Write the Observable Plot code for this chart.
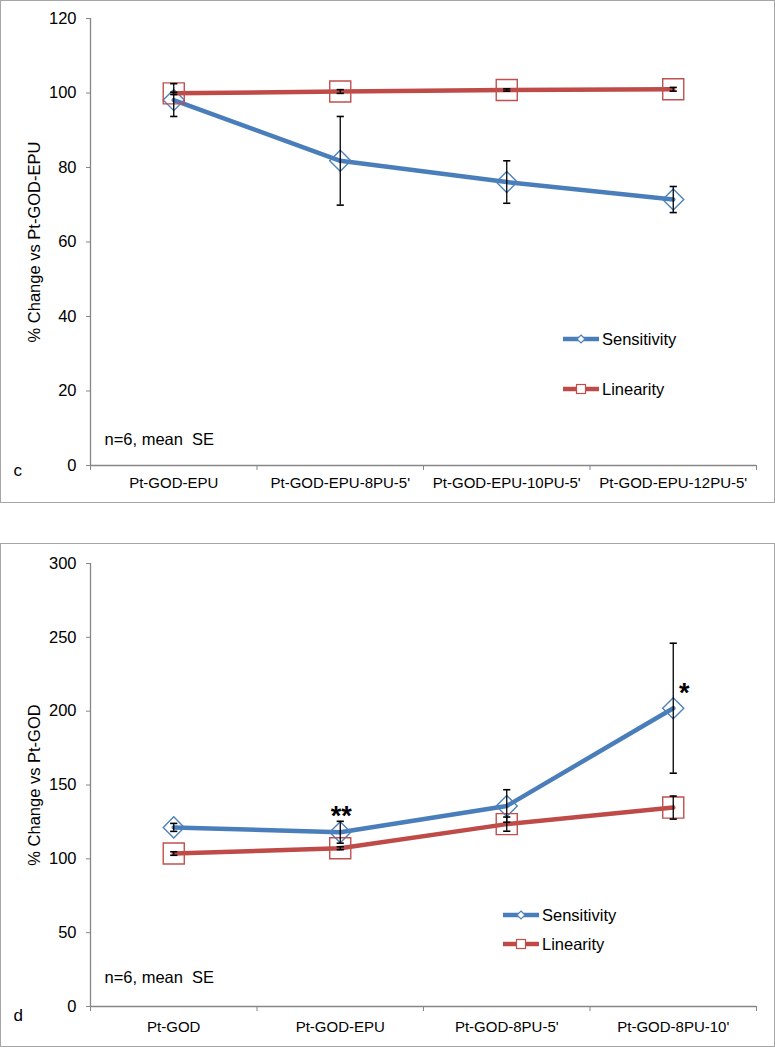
<!DOCTYPE html>
<html><head><meta charset="utf-8">
<script src="https://cdn.jsdelivr.net/npm/d3@7"></script>
<script src="https://cdn.jsdelivr.net/npm/@observablehq/plot@0.6"></script>
<style>
html,body{margin:0;padding:0;background:#fff;}
body{width:775px;height:1048px;position:relative;overflow:hidden;font-family:"Liberation Sans",Arial,sans-serif;}
.border{position:absolute;box-sizing:border-box;border:1.5px solid #a6a6a6;}
.chart{position:absolute;left:0;}
.chart svg text{white-space:pre;}
.item{position:absolute;height:20px;display:flex;align-items:center;white-space:nowrap;font-size:16.5px;color:#000;}
.item svg{display:block;}
</style></head><body>
<div class="border" style="left:0;top:0;width:775px;height:503px"></div>
<div class="border" style="left:0;top:543px;width:775px;height:504px"></div>
<div id="c1" class="chart" style="top:0"></div>
<div id="c2" class="chart" style="top:543px"></div>
<script>
// ---- Panel c data ----
const topCategories = ["Pt-GOD-EPU", "Pt-GOD-EPU-8PU-5'", "Pt-GOD-EPU-10PU-5'", "Pt-GOD-EPU-12PU-5'"];
const topSensitivity = [98.1, 81.8, 76.1, 71.4];
const topSensitivitySE = [4.4, 11.9, 5.7, 3.5];
const topLinearity = [99.9, 100.4, 100.8, 101.0];
const topLinearitySE = [0.3, 0.5, 0.3, 0.5];
const topYTicks = [0, 20, 40, 60, 80, 100, 120];

// ---- Panel d data ----
const bottomCategories = ["Pt-GOD", "Pt-GOD-EPU", "Pt-GOD-8PU-5'", "Pt-GOD-8PU-10'"];
const bottomSensitivity = [121.3, 118.0, 135.8, 202.0];
const bottomSensitivitySE = [2.7, 7.4, 11.0, 44.0];
const bottomLinearity = [103.6, 107.2, 123.5, 134.7];
const bottomLinearitySE = [1.2, 1.0, 4.8, 7.8];
const bottomSignificance = ["", "**", "", "*"];
const bottomYTicks = [0, 50, 100, 150, 200, 250, 300];

const seriesNames = ["Sensitivity", "Linearity"];
const noteText = "n=6, mean  SE";

const FONT = "'Liberation Sans', Arial, sans-serif";
const GRAY = "#868686";
const BLUE = "#4A7EBB", BLUE_M = "#4F81BD";
const RED = "#BE4B48", RED_M = "#C0504D";

const capSymbol = {draw(ctx) { ctx.moveTo(-3.6, 0); ctx.lineTo(3.6, 0); }};

function rows(cats, vals, se, sig) {
  return cats.map((c, i) => ({i: i + 0.5, cat: c, v: vals[i], lo: vals[i] - se[i], hi: vals[i] + se[i], sig: sig ? sig[i] : ""}));
}

function panel(o) {
  const S = rows(o.cats, o.sens, o.sensSE, o.sig);
  const L = rows(o.cats, o.lin, o.linSE);
  const n = o.cats.length;
  return Plot.plot({
    width: 775, height: o.height,
    marginLeft: 90, marginRight: 19, marginTop: o.marginTop, marginBottom: o.marginBottom,
    style: {fontFamily: FONT, fontSize: "16px", color: "#000", background: "transparent", overflow: "visible"},
    x: {type: "linear", domain: [0, n]},
    y: {domain: [0, o.yTicks[o.yTicks.length - 1]]},
    marks: [
      Plot.ruleX([0], {stroke: GRAY, strokeWidth: 1.3}),
      Plot.ruleY([0], {stroke: GRAY, strokeWidth: 1.3}),
      Plot.axisY({ticks: o.yTicks, tickSize: 4, stroke: GRAY, fill: "none", label: null}),
      Plot.text(o.yTicks, {x: 0, y: d => d, text: d => String(d), textAnchor: "end", dx: -14, fontSize: 16.5, fill: "#000"}),
      Plot.axisX({ticks: d3.range(0, n + 1), tickSize: 5, tickFormat: () => "", stroke: GRAY, fill: "none", label: null}),
      Plot.axisX({ticks: o.cats.map((c, i) => i + 0.5), tickSize: 0, tickPadding: o.labelPad, tickFormat: d => o.cats[Math.floor(d)], fontSize: 15, fill: "#000", label: null}),
      Plot.text([o.yLabel], {frameAnchor: "left", rotate: -90, textAnchor: "middle", dx: -56, fontSize: 16.5, fill: "#000"}),
      Plot.text([noteText], {frameAnchor: "bottom-left", dx: 14, dy: o.noteDy, textAnchor: "start", fontSize: 16.5, fill: "#000"}),
      Plot.text([o.letter], {frameAnchor: "bottom-left", dx: -77, dy: o.letterDy, textAnchor: "start", fontSize: 17, fill: "#000"}),
      // Sensitivity line + markers
      Plot.line(S, {x: "i", y: "v", stroke: BLUE, strokeWidth: 4.5}),
      Plot.dot(S, {x: "i", y: "v", symbol: "diamond2", r: 9.5, stroke: BLUE_M, strokeWidth: 1.4, fill: "none"}),
      // Linearity line + markers
      Plot.line(L, {x: "i", y: "v", stroke: RED, strokeWidth: 4.5}),
      Plot.dot(L, {x: "i", y: "v", symbol: "square2", r: 13.4, stroke: RED_M, strokeWidth: 1.4, fill: "none"}),
      // Error bars
      ...[S, L].flatMap(D => [
        Plot.ruleX(D, {x: "i", y1: "lo", y2: "hi", stroke: "#000", strokeWidth: 1.3}),
        Plot.dot(D, {x: "i", y: "hi", symbol: capSymbol, r: 1, stroke: "#000", strokeWidth: 1.6, fill: "none"}),
        Plot.dot(D, {x: "i", y: "lo", symbol: capSymbol, r: 1, stroke: "#000", strokeWidth: 1.6, fill: "none"})
      ]),
      // Significance marks
      Plot.text(S.filter(d => d.sig === "**"), {x: "i", y: "v", text: "sig", dy: -16, dx: 1, fontSize: 27, fontWeight: "bold", fill: "#000"}),
      Plot.text(S.filter(d => d.sig === "*"), {x: "i", y: "v", text: "sig", dy: -15, dx: 11, fontSize: 27, fontWeight: "bold", fill: "#000"})
    ]
  });
}

document.getElementById("c1").append(panel({
  cats: topCategories, sens: topSensitivity, sensSE: topSensitivitySE, lin: topLinearity, linSE: topLinearitySE,
  yTicks: topYTicks, yLabel: "% Change vs Pt-GOD-EPU", letter: "c",
  height: 503, marginTop: 18, marginBottom: 38, labelPad: 12, noteDy: -21, letterDy: 10
}));
document.getElementById("c2").append(panel({
  cats: bottomCategories, sens: bottomSensitivity, sensSE: bottomSensitivitySE, lin: bottomLinearity, linSE: bottomLinearitySE,
  sig: bottomSignificance,
  yTicks: bottomYTicks, yLabel: "% Change vs Pt-GOD", letter: "d",
  height: 505, marginTop: 20, marginBottom: 42, labelPad: 15, noteDy: -24, letterDy: 14
}));

// Legends (HTML)
function legendItem(name, left, cy) {
  const isS = name === seriesNames[0];
  const col = isS ? BLUE : RED, mcol = isS ? BLUE_M : RED_M;
  const marker = isS
    ? `<path d="M18,6 L22,10 L18,14 L14,10 Z" fill="#fff" stroke="${mcol}" stroke-width="1.2"/>`
    : `<rect x="13.5" y="5.5" width="9" height="9" fill="#fff" stroke="${mcol}" stroke-width="1.2"/>`;
  const div = document.createElement("div");
  div.className = "item";
  div.style.left = left + "px";
  div.style.top = (cy - 10) + "px";
  div.innerHTML = `<svg width="36" height="20"><line x1="0" y1="10" x2="36" y2="10" stroke="${col}" stroke-width="4.5"/>${marker}</svg><span style="margin-left:3px">${name}</span>`;
  document.body.append(div);
}
legendItem(seriesNames[0], 563, 339);
legendItem(seriesNames[1], 563, 389);
legendItem(seriesNames[0], 503, 915);
legendItem(seriesNames[1], 503, 944);
</script>
</body></html>
